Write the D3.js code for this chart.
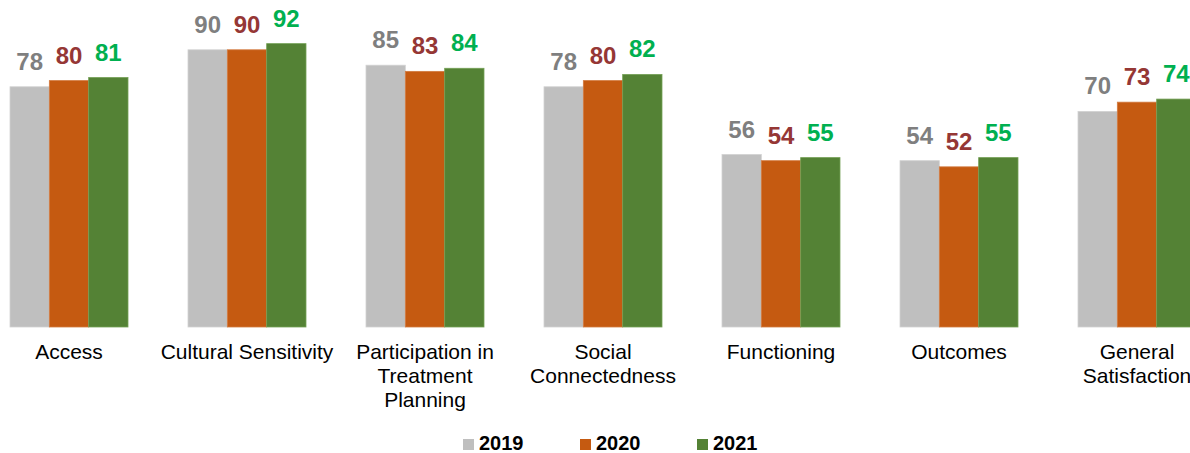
<!DOCTYPE html>
<html>
<head>
<meta charset="utf-8">
<script src="https://cdn.jsdelivr.net/npm/d3@7"></script>
<style>
  html, body { margin: 0; padding: 0; background: #fff; overflow: hidden; }
  svg { display: block; font-family: Arial, "Liberation Sans", sans-serif; }
</style>
</head>
<body>
<svg id="chart" width="1190" height="453"></svg>
<script>
// Survey domain scores by year
const categories = ["Access", "Cultural Sensitivity", "Participation in Treatment Planning",
  "Social Connectedness", "Functioning", "Outcomes", "General Satisfaction"];
const years = ["2019", "2020", "2021"];
const values2019 = [78, 90, 85, 78, 56, 54, 70];
const values2020 = [80, 90, 83, 80, 54, 52, 73];
const values2021 = [81, 92, 84, 82, 55, 55, 74];

const seriesValues = [values2019, values2020, values2021];
const barColors = ["#BFBFBF", "#C55A11", "#548235"];
const barEdges = ["#D2D2D2", "#D27A40", "#74A055"];
const labelColors = ["#7F7F7F", "#953735", "#00B050"];

const svg = d3.select("#chart");

const pad = 60 / 178;
const x0 = d3.scaleBand()
  .domain(categories)
  .range([-20, 1226])
  .paddingInner(pad)
  .paddingOuter(pad / 2);

const x1 = d3.scaleBand()
  .domain(years)
  .range([0, x0.bandwidth()]);

const y = d3.scaleLinear().domain([0, 100]).range([327, 19]);

const rows = categories.map((c, i) => ({
  category: c,
  bars: years.map((yr, s) => ({ year: yr, s, value: seriesValues[s][i] }))
}));

const groups = svg.append("g").selectAll("g")
  .data(rows)
  .join("g")
  .attr("transform", d => `translate(${x0(d.category)},0)`);

groups.selectAll("rect")
  .data(d => d.bars)
  .join("rect")
  .attr("x", d => x1(d.year))
  .attr("y", d => y(d.value))
  .attr("width", x1.bandwidth())
  .attr("height", d => y(0) - y(d.value))
  .attr("fill", d => barColors[d.s])
  .attr("stroke", d => barEdges[d.s])
  .attr("stroke-width", 0.8);

groups.selectAll("text.value")
  .data(d => d.bars)
  .join("text")
  .attr("class", "value")
  .attr("x", d => x1(d.year) + x1.bandwidth() / 2)
  .attr("y", d => y(d.value) - 17)
  .attr("text-anchor", "middle")
  .attr("font-size", 24)
  .attr("font-weight", "bold")
  .attr("fill", d => labelColors[d.s])
  .text(d => d.value);

// Category axis labels, wrapped to the band step
const xAxis = d3.axisBottom(x0).tickSize(0).tickPadding(0);
const axisG = svg.append("g")
  .attr("transform", `translate(0,${y(0)})`)
  .call(xAxis);
axisG.select(".domain").remove();
axisG.selectAll(".tick text")
  .attr("font-size", 21)
  .attr("font-family", "Arial, 'Liberation Sans', sans-serif")
  .attr("fill", "#000")
  .call(wrap, x0.step() - 2);

function wrap(sel, width) {
  sel.each(function () {
    const text = d3.select(this);
    const words = text.text().split(/\s+/);
    text.text(null).attr("y", null).attr("dy", null);
    let line = [];
    let lineNo = 0;
    let tspan = text.append("tspan").attr("x", 0).attr("y", 32);
    for (const w of words) {
      line.push(w);
      tspan.text(line.join(" "));
      if (tspan.node().getComputedTextLength() > width && line.length > 1) {
        line.pop();
        tspan.text(line.join(" "));
        line = [w];
        lineNo++;
        tspan = text.append("tspan").attr("x", 0).attr("y", 32 + lineNo * 24).text(w);
      }
    }
  });
}

// Legend
const legendX = d3.scalePoint().domain(years).range([463, 697]);
const legend = svg.append("g").selectAll("g")
  .data(years)
  .join("g")
  .attr("transform", d => `translate(${legendX(d)},0)`);
legend.append("rect")
  .attr("x", 0).attr("y", 439)
  .attr("width", 11).attr("height", 11)
  .attr("fill", (d, i) => barColors[i]);
legend.append("text")
  .attr("x", 16).attr("y", 450)
  .attr("font-size", 20)
  .attr("font-weight", "bold")
  .attr("fill", "#000")
  .text(d => d);
</script>
</body>
</html>
